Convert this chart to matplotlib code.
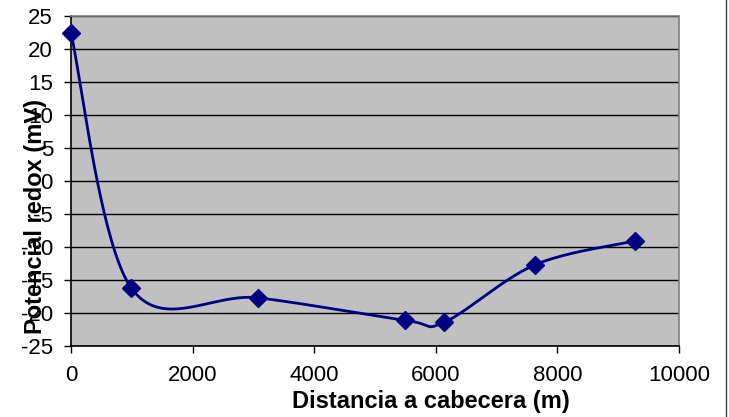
import numpy as np
import matplotlib
matplotlib.use("Agg")
import matplotlib.pyplot as plt
from matplotlib.lines import Line2D

plt.rcParams['font.family'] = ['Liberation Sans', 'DejaVu Sans']

distancia = [0, 990, 3080, 5490, 6140, 7630, 9270]
potencial = [22.4, -16.2, -17.7, -21.1, -21.4, -12.7, -9.1]
xticks = [0, 2000, 4000, 6000, 8000, 10000]
yticks = [25, 20, 15, 10, 5, 0, -5, -10, -15, -20, -25]


def smooth(xs, ys, n=40):
    P = np.column_stack([xs, ys]).astype(float)
    out = [P[0]]
    m = len(P)
    for i in range(m - 1):
        p0 = P[i - 1] if i > 0 else P[i]
        p1 = P[i]
        p2 = P[i + 1]
        p3 = P[i + 2] if i + 2 < m else P[i + 1]
        c1 = p1 + (p2 - p0) / 6.0
        c2 = p2 - (p3 - p1) / 6.0
        t = np.linspace(0, 1, n)[1:, None]
        seg = ((1 - t) ** 3) * p1 + 3 * ((1 - t) ** 2) * t * c1 + 3 * (1 - t) * t ** 2 * c2 + t ** 3 * p2
        out.extend(seg)
    out = np.array(out)
    return out[:, 0], out[:, 1]


fig = plt.figure(figsize=(7.29, 4.17), dpi=100)
ax = fig.add_axes([71 / 729, 1 - 346 / 417, 608 / 729, 330 / 417])
ax.set_facecolor('#C0C0C0')

sx, sy = smooth(distancia, potencial)
ax.plot(sx, sy, color='#000080', lw=2, zorder=3, clip_on=False)
ax.plot(distancia, potencial, linestyle='none', marker='D', markersize=9,
        color='#000080', zorder=4, clip_on=False)

ax.set_xlim(0, 10000)
ax.set_ylim(-25, 25)
ax.set_xticks(xticks)
ax.set_yticks(yticks)
ax.set_xticklabels([str(v) for v in xticks])
ax.set_yticklabels([str(v) for v in yticks])
ax.tick_params(axis='both', labelsize=16, direction='out', length=5, width=1, color='black')
ax.tick_params(axis='y', pad=8)
ax.tick_params(axis='x', pad=9)
ax.grid(axis='y', color='black', lw=1)
ax.set_axisbelow(True)

for s in ['top', 'right']:
    ax.spines[s].set_color('#808080')
    ax.spines[s].set_linewidth(1.2)
for s in ['left', 'bottom']:
    ax.spines[s].set_color('black')
    ax.spines[s].set_linewidth(1.2)

ax.set_xlabel('Distancia a cabecera (m)', fontsize=17, fontweight='bold')
ax.xaxis.set_label_coords(0.592, -0.133)
ax.set_ylabel('Potencial redox (mV)', fontsize=17, fontweight='bold')
ax.yaxis.set_label_coords(-0.039, 0.391)

fig.add_artist(Line2D([726 / 729, 726 / 729], [0, 1], color='#404040', lw=1))

fig.savefig('out.png', dpi=100)
